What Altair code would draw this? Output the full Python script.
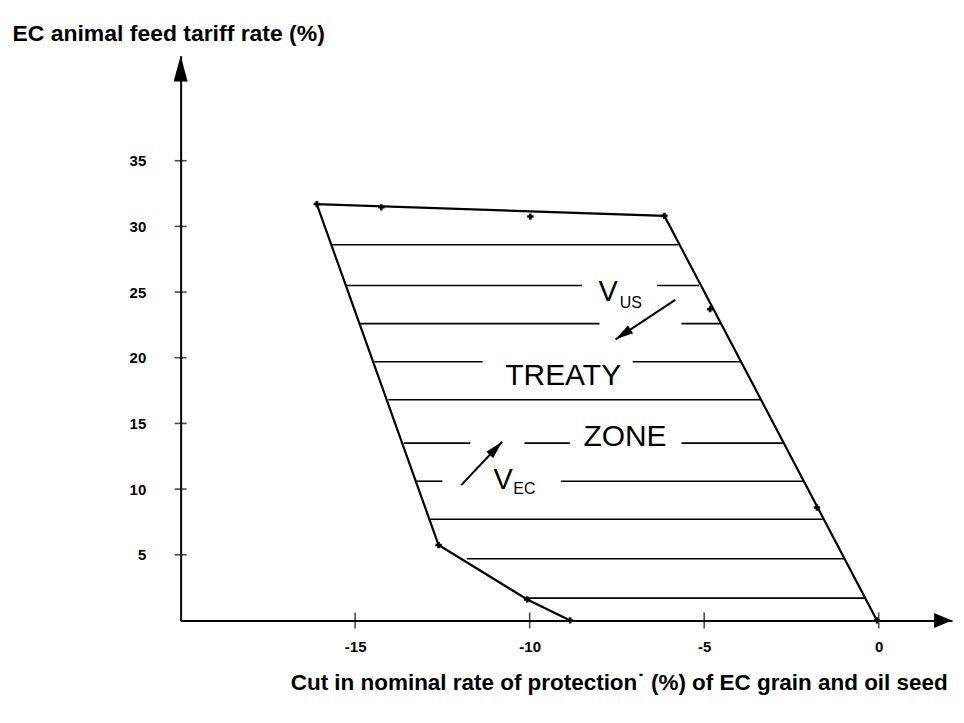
import math
import altair as alt
import pandas as pd

# ---------------- data ----------------
X_MIN, X_MAX = -20, 2.1
Y_MIN, Y_MAX = 0, 43
W, H = 773, 566

x_tick_values = [-15, -10, -5, 0]
y_tick_values = [5, 10, 15, 20, 25, 30, 35]

# outline of the treaty zone (in drawing order)
zone_x = [-8.84, -10.07, -12.61, -16.1, -6.14, -0.05]
zone_y = [0.0, 1.6, 5.74, 31.7, 30.8, 0.0]

# small star markers on the outline
vertex_x = [-16.1, -14.25, -9.98, -6.14, -4.83, -1.77, -0.05, -12.61, -10.07, -8.84]
vertex_y = [31.7, 31.45, 30.75, 30.8, 23.7, 8.6, 0.0, 5.74, 1.6, 0.0]

# horizontal hatch segments
hatch_x1 = [-15.7, -15.25, -6.35, -14.85, -5.65, -14.45, -7.05, -14.05,
            -13.6, -10.15, -5.65, -13.25, -9.1, -12.85, -11.8, -10.1]
hatch_x2 = [-5.75, -8.5, -5.15, -8.0, -4.5, -11.35, -3.95, -3.4,
            -11.7, -8.85, -2.75, -12.5, -2.15, -1.6, -0.97, -0.38]
hatch_y = [28.6, 25.5, 25.5, 22.6, 22.6, 19.7, 19.7, 16.8,
           13.5, 13.5, 13.5, 10.6, 10.6, 7.7, 4.7, 1.7]

zone_words = ["TREATY", "ZONE"]
zone_word_x = [-9.04, -7.27]
zone_word_y = [18.6, 14.0]

vector_names = ["US", "EC"]
vector_tail_x = [-5.83, -11.96]
vector_tail_y = [24.4, 10.3]
vector_head_x = [-7.54, -10.79]
vector_head_y = [21.4, 13.6]
vector_v_x = [-7.75, -10.76]
vector_v_y = [25.0, 10.7]
vector_sub_x = [-7.1, -10.15]
vector_sub_y = [24.2, 10.0]

y_title = "EC animal feed tariff rate (%)"
x_title = "Cut in nominal rate of protection\u02d9 (%) of EC grain and oil seed"

# ---------------- helpers ----------------
FONT = "Liberation Sans"
px_x = W / (X_MAX - X_MIN)
px_y = H / (Y_MAX - Y_MIN)


def heading(x1, y1, x2, y2):
    sx = (x2 - x1) * px_x
    sy = -(y2 - y1) * px_y
    return math.degrees(math.atan2(sx, -sy)) % 360


xscale = alt.Scale(domain=[X_MIN, X_MAX], nice=False, zero=False)
yscale = alt.Scale(domain=[Y_MIN, Y_MAX], nice=False, zero=False)

x_axis = alt.Axis(
    values=x_tick_values, ticks=False, tickSize=0, grid=False,
    domainColor="black", domainWidth=2,
    labelFont=FONT, labelFontSize=15, labelFontWeight="bold", labelColor="black",
    labelPadding=19, labelExpr="'' + datum.value", labelFlush=False,
    title=x_title, titleFont=FONT, titleFontSize=22.5, titleFontWeight="bold",
    titleColor="black", titleX=439, titleY=62, titleAlign="center",
    titleBaseline="middle",
)
y_axis = alt.Axis(
    values=y_tick_values, ticks=False, tickSize=0, grid=False,
    domainColor="black", domainWidth=2,
    labelFont=FONT, labelFontSize=15, labelFontWeight="bold", labelColor="black",
    labelPadding=35, labelExpr="'' + datum.value", labelFlush=False,
    title=y_title, titleFont=FONT, titleFontSize=23, titleFontWeight="bold",
    titleColor="black", titleAngle=0, titleX=-169, titleY=-22,
    titleAlign="left", titleBaseline="middle",
)


def X(f="x"):
    return alt.X(f"{f}:Q", scale=xscale, axis=x_axis)


def Y(f="y"):
    return alt.Y(f"{f}:Q", scale=yscale, axis=y_axis)


# ---------------- tables ----------------
outline_df = pd.DataFrame({"x": zone_x, "y": zone_y, "o": list(range(len(zone_x)))})
vertex_df = pd.DataFrame({"x": vertex_x, "y": vertex_y})
hatch_df = pd.DataFrame({"x": hatch_x1, "x2": hatch_x2, "y": hatch_y})
words_df = pd.DataFrame({"t": zone_words, "x": zone_word_x, "y": zone_word_y})
vec_df = pd.DataFrame({
    "n": vector_names,
    "x": vector_tail_x, "y": vector_tail_y,
    "x2": vector_head_x, "y2": vector_head_y,
})
vec_head_df = pd.DataFrame({
    "x": vector_head_x, "y": vector_head_y,
    "a": [heading(a, b, c, d) for a, b, c, d in
          zip(vector_tail_x, vector_tail_y, vector_head_x, vector_head_y)],
})
v_df = pd.DataFrame({"t": ["V"] * len(vector_names), "x": vector_v_x, "y": vector_v_y})
sub_df = pd.DataFrame({"t": vector_names, "x": vector_sub_x, "y": vector_sub_y})
xt_df = pd.DataFrame({"x": x_tick_values, "y": [Y_MIN] * len(x_tick_values)})
yt_df = pd.DataFrame({"x": [X_MIN] * len(y_tick_values), "y": y_tick_values})
yhead_df = pd.DataFrame({"x": [X_MIN], "y": [Y_MAX]})
xhead_df = pd.DataFrame({"x": [X_MAX], "y": [Y_MIN]})

# ---------------- layers ----------------
hatch = alt.Chart(hatch_df).mark_rule(color="black", strokeWidth=1.6).encode(
    x=X(), x2="x2:Q", y=Y())

outline = alt.Chart(outline_df).mark_line(color="black", strokeWidth=2.2).encode(
    x=X(), y=Y(), order="o:Q")

vertices = alt.Chart(vertex_df).mark_point(
    shape="cross", filled=True, color="black", size=40, opacity=1).encode(x=X(), y=Y())

xticks = alt.Chart(xt_df).mark_tick(
    orient="vertical", color="black", size=16, thickness=1.6).encode(x=X(), y=Y())
yticks = alt.Chart(yt_df).mark_tick(
    orient="horizontal", color="black", size=12, thickness=1.6).encode(x=X(), y=Y())

yhead = alt.Chart(yhead_df).mark_point(
    shape="M0,0 L0.27,1 L-0.27,1 Z", filled=True, color="black", opacity=1,
    size=2704, angle=0).encode(x=X(), y=Y())
xhead = alt.Chart(xhead_df).mark_point(
    shape="M0,0 L0.42,1 L-0.42,1 Z", filled=True, color="black", opacity=1,
    size=1296, angle=90).encode(x=X(), y=Y())

shafts = alt.Chart(vec_df).mark_rule(color="black", strokeWidth=2).encode(
    x=X(), y=Y(), x2="x2:Q", y2="y2:Q")
heads = alt.Chart(vec_head_df).mark_point(
    shape="M0,0 L0.26,1 L-0.26,1 Z", filled=True, color="black", opacity=1,
    size=1296).encode(x=X(), y=Y(), angle=alt.Angle("a:Q", scale=None))

words = alt.Chart(words_df).mark_text(
    font=FONT, fontSize=30, color="black", align="center", baseline="middle").encode(
    x=X(), y=Y(), text="t:N")
vs = alt.Chart(v_df).mark_text(
    font=FONT, fontSize=29, color="black", align="center", baseline="middle").encode(
    x=X(), y=Y(), text="t:N")
subs = alt.Chart(sub_df).mark_text(
    font=FONT, fontSize=16, color="black", align="center", baseline="middle").encode(
    x=X(), y=Y(), text="t:N")

chart = alt.layer(
    hatch, outline, vertices, xticks, yticks, yhead, xhead,
    shafts, heads, words, vs, subs,
).properties(
    width=W, height=H,
    padding={"left": 173, "top": 47, "right": 4, "bottom": 85},
    autosize=alt.AutoSizeParams(type="none"),
).configure(background="white").configure_view(stroke=None)

chart.save("out.html", embed_options={"renderer": "svg", "actions": False})
